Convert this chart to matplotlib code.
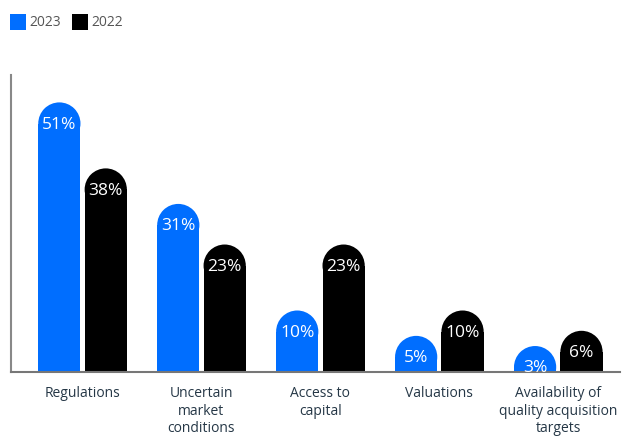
import numpy as np
import matplotlib.pyplot as plt
from matplotlib.patches import Rectangle, Ellipse

plt.rcParams['font.family'] = ['Open Sans', 'DejaVu Sans']

# data
categories = ['Regulations', 'Uncertain\nmarket\nconditions', 'Access to\ncapital',
              'Valuations', 'Availability of\nquality acquisition\ntargets']
vals_2023 = [51, 31, 10, 5, 3]
vals_2022 = [38, 23, 23, 10, 6]
years = ['2023', '2022']
colors = ['#006EFF', '#000000']

fig = plt.figure(figsize=(6.22, 4.36), dpi=100)
ax = fig.add_axes([0.018, 0.147, 0.979, 0.681])

x = np.arange(len(categories))
w = 0.355
off = 0.195
pad = 2.1  # extra height so the rounded cap fits on small bars
ax.set_xlim(-0.6, 4.52)
ax.set_ylim(0, 58.5)

# figure out cap radius in data units
bb = ax.get_window_extent()
px_x = bb.width / (4.52 + 0.6)
px_y = bb.height / 58.5
ry = (w * px_x / 2) / px_y

for vals, col, dx in [(vals_2023, colors[0], -off), (vals_2022, colors[1], off)]:
    for xi, v in zip(x, vals):
        h = v + pad
        cx = xi + dx
        ax.add_patch(Rectangle((cx - w / 2, 0), w, h - ry, color=col, lw=0))
        ax.add_patch(Ellipse((cx, h - ry), w, 2 * ry, color=col, lw=0))
        ax.annotate(f'{v}%', (cx, h), xytext=(0, -16), textcoords='offset points',
                    ha='center', va='center', color='white', fontsize=12.5)

ax.set_xticks(x)
ax.set_xticklabels(categories, fontsize=10, color='#253746', linespacing=1.25)
ax.tick_params(axis='x', length=0, pad=10)
ax.set_yticks([])
for s in ['top', 'right']:
    ax.spines[s].set_visible(False)
ax.spines['left'].set_color('#888888')
ax.spines['left'].set_linewidth(1.5)
ax.spines['bottom'].set_color('#777777')
ax.spines['bottom'].set_linewidth(1.5)

# legend
fig.patches.append(Rectangle((10 / 622, 1 - 30 / 436), 16 / 622, 16 / 436,
                             transform=fig.transFigure, color=colors[0], lw=0))
fig.text(29 / 622, 1 - 22 / 436, years[0], fontsize=10, color='#555555', va='center')
fig.patches.append(Rectangle((72 / 622, 1 - 30 / 436), 16 / 622, 16 / 436,
                             transform=fig.transFigure, color=colors[1], lw=0))
fig.text(91 / 622, 1 - 22 / 436, years[1], fontsize=10, color='#555555', va='center')

fig.savefig('out.png', dpi=100)
